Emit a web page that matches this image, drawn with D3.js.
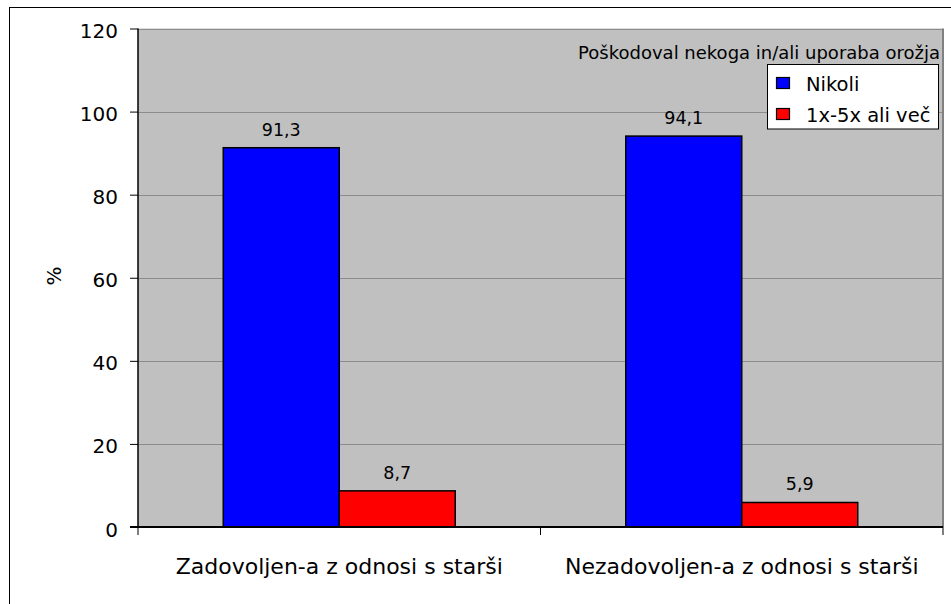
<!DOCTYPE html>
<html>
<head>
<meta charset="utf-8">
<script src="https://cdn.jsdelivr.net/npm/d3@7"></script>
<style>
  html, body { margin: 0; padding: 0; background: #ffffff; }
  svg { display: block; font-family: "DejaVu Sans", Verdana, sans-serif; }
</style>
</head>
<body>
<svg id="chart" width="951" height="604"></svg>
<script>
// ---- data ----
const categories = ["Zadovoljen-a z odnosi s starši", "Nezadovoljen-a z odnosi s starši"];
const seriesNames = ["Nikoli", "1x-5x ali več"];
const nikoliValues = [91.3, 94.1];
const vecValues = [8.7, 5.9];
const yTicks = [0, 20, 40, 60, 80, 100, 120];
const legendTitle = "Poškodoval nekoga in/ali uporaba orožja";
const yAxisLabel = "%";
const seriesColors = ["#0000ff", "#ff0000"];

const seriesValues = [nikoliValues, vecValues];
const fmt = v => String(v).replace(".", ",");

const svg = d3.select("#chart");

// outer frame (extends beyond the visible window on right/bottom)
svg.append("rect")
  .attr("x", 9.5).attr("y", 7.5).attr("width", 990).attr("height", 650)
  .attr("fill", "#ffffff").attr("stroke", "#000000").attr("stroke-width", 1);

const plot = { left: 138, right: 943, top: 28.5, bottom: 527 };

const x0 = d3.scaleBand().domain(categories).range([plot.left, plot.right]).paddingInner(0).paddingOuter(0);
const x1 = d3.scaleBand().domain(seriesNames).range([0, x0.bandwidth()]).paddingInner(0).paddingOuter(0.735);
const y = d3.scaleLinear().domain([0, 120]).range([plot.bottom, plot.top]);

// plot background
svg.append("rect")
  .attr("x", plot.left).attr("y", plot.top)
  .attr("width", plot.right - plot.left).attr("height", plot.bottom - plot.top)
  .attr("fill", "#c0c0c0");

// gridlines
svg.append("g").selectAll("line").data(yTicks.filter(t => t > 0)).join("line")
  .attr("x1", plot.left).attr("x2", plot.right)
  .attr("y1", d => Math.round(y(d)) + 0.5).attr("y2", d => Math.round(y(d)) + 0.5)
  .attr("stroke", "#8c8c8c").attr("stroke-width", 1);

// right plot border
svg.append("line")
  .attr("x1", plot.right).attr("x2", plot.right)
  .attr("y1", plot.top).attr("y2", plot.bottom)
  .attr("stroke", "#808080").attr("stroke-width", 2);

// bars
const groups = svg.append("g").selectAll("g").data(categories).join("g")
  .attr("transform", d => `translate(${x0(d)},0)`);

groups.each(function(cat, ci) {
  const g = d3.select(this);
  seriesNames.forEach((s, si) => {
    const v = seriesValues[si][ci];
    g.append("rect")
      .attr("x", x1(s)).attr("width", x1.bandwidth())
      .attr("y", y(v)).attr("height", y(0) - y(v))
      .attr("fill", seriesColors[si])
      .attr("stroke", "#000000").attr("stroke-width", 1.5);
    g.append("text")
      .attr("x", x1(s) + x1.bandwidth() / 2)
      .attr("y", y(v) - 12)
      .attr("text-anchor", "middle")
      .attr("font-size", 17.5)
      .attr("fill", "#000")
      .text(fmt(v));
  });
});

// y axis
const yAxis = d3.axisLeft(y).tickValues(yTicks).tickSize(8).tickPadding(12).tickFormat(d3.format("d"));
const yg = svg.append("g").attr("transform", `translate(${plot.left},0)`).call(yAxis);
yg.select(".domain").attr("stroke", "#000").attr("stroke-width", 1.5).attr("d", `M0,${plot.top}V${plot.bottom}`);
yg.selectAll(".tick line").attr("stroke", "#000").attr("stroke-width", 1);
yg.selectAll(".tick text").attr("font-size", 20).attr("font-family", "DejaVu Sans").attr("fill", "#000").attr("dy", "0.45em");

// x axis
const xAxis = d3.axisBottom(x0).tickSize(0).tickPadding(0);
const xg = svg.append("g").attr("transform", `translate(0,${plot.bottom})`).call(xAxis);
xg.select(".domain").remove();
xg.selectAll(".tick text").attr("font-size", 22).attr("font-family", "DejaVu Sans").attr("fill", "#000").attr("y", 47).attr("dy", 0);
// x axis line and boundary ticks
svg.append("line")
  .attr("x1", plot.left - 8).attr("x2", plot.right)
  .attr("y1", plot.bottom).attr("y2", plot.bottom)
  .attr("stroke", "#000").attr("stroke-width", 2);
const boundaries = categories.map(c => x0(c)).concat([x0(categories[categories.length - 1]) + x0.bandwidth()]);
svg.append("g").selectAll("line").data(boundaries).join("line")
  .attr("x1", d => d).attr("x2", d => d)
  .attr("y1", plot.bottom).attr("y2", plot.bottom + 8)
  .attr("stroke", "#000").attr("stroke-width", 1);

// y axis title
svg.append("text")
  .attr("transform", `translate(61,276) rotate(-90)`)
  .attr("text-anchor", "middle")
  .attr("font-size", 20)
  .attr("fill", "#000")
  .text(yAxisLabel);

// legend
svg.append("text")
  .attr("x", 940).attr("y", 59)
  .attr("text-anchor", "end")
  .attr("font-size", 18)
  .attr("fill", "#000")
  .text(legendTitle);

const legend = svg.append("g");
legend.append("rect")
  .attr("x", 767.5).attr("y", 64.5).attr("width", 171).attr("height", 64.5)
  .attr("fill", "#ffffff").attr("stroke", "#000").attr("stroke-width", 1);
const ly = d3.scalePoint().domain(seriesNames).range([83, 114]);
seriesNames.forEach((s, i) => {
  legend.append("rect")
    .attr("x", 776.5).attr("y", ly(s) - 5.5).attr("width", 13).attr("height", 11)
    .attr("fill", seriesColors[i]).attr("stroke", "#000").attr("stroke-width", 1.2);
  legend.append("text")
    .attr("x", 806).attr("y", ly(s) + 7.5)
    .attr("font-size", 19.5)
    .attr("fill", "#000")
    .text(s);
});
</script>
</body>
</html>
